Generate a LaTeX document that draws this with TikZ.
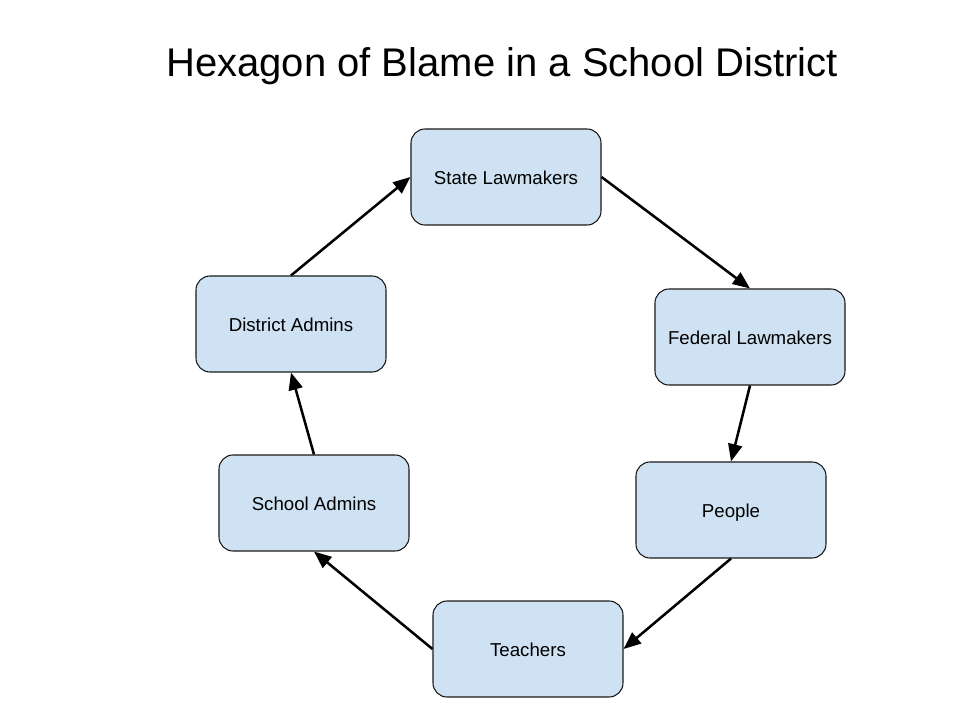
\documentclass[tikz,border=0pt]{standalone}
\usepackage{fontspec}
\setmainfont{Liberation Sans}
\usetikzlibrary{arrows.meta}
\definecolor{boxfill}{HTML}{CFE2F3}
\begin{document}
\begin{tikzpicture}[x=0.75pt,y=-0.75pt,
  blamebox/.style={draw=black!90, line width=0.8pt, fill=boxfill, rounded corners=10.5pt,
    minimum width=142.5pt, minimum height=72pt, inner sep=0pt, text height=11pt, text depth=0pt,
    font=\fontsize{14}{16}\selectfont},
  blamearrow/.style={line width=1.9pt, -{Triangle[length=13pt,width=10.5pt]}}]
\useasboundingbox (0,0) rectangle (960,720);
\node[anchor=base, font=\fontsize{30}{34}\selectfont] (title) at (502,77) {Hexagon of Blame in a School District};
\node[blamebox] (state) at (506,177) {State Lawmakers};
\node[blamebox] (federal) at (750,337) {Federal Lawmakers};
\node[blamebox] (people) at (731,510) {People};
\node[blamebox] (teachers) at (528,649) {Teachers};
\node[blamebox] (school) at (314,503) {School Admins};
\node[blamebox] (district) at (291,324) {District Admins};
\draw[blamearrow] (state.east) -- (federal.north);
\draw[blamearrow] (federal.south) -- (people.north);
\draw[blamearrow] (people.south) -- (teachers.east);
\draw[blamearrow] (teachers.west) -- (school.south);
\draw[blamearrow] (school.north) -- (district.south);
\draw[blamearrow] (district.north) -- (state.west);
\end{tikzpicture}
\end{document}
